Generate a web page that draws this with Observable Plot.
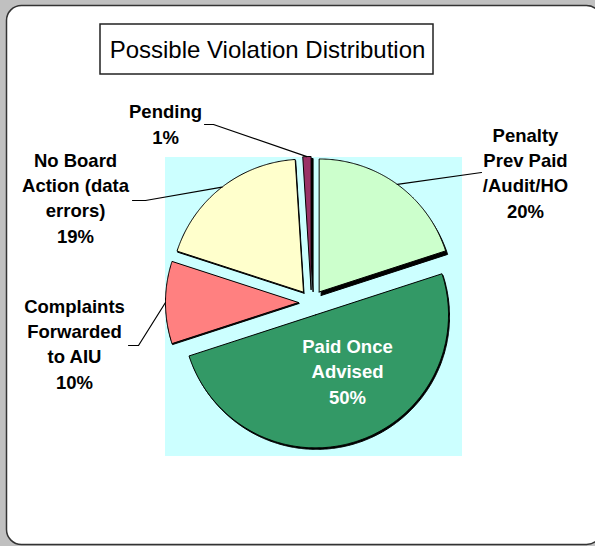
<!DOCTYPE html>
<html><head><meta charset="utf-8">
<script src="https://cdn.jsdelivr.net/npm/d3@7"></script>
<script src="https://cdn.jsdelivr.net/npm/@observablehq/plot@0.6"></script>
<style>html,body{margin:0;padding:0;background:#c0c0c0;} svg{display:block}</style>
</head><body><div id="chart"></div>
<script>
// ---- data ----
const title = "Possible Violation Distribution";
const categories = ["Penalty Prev Paid /Audit/HO", "Paid Once Advised", "Complaints Forwarded to AIU", "No Board Action (data errors)", "Pending"];
const labelLines = [["Penalty", "Prev Paid", "/Audit/HO"], ["Paid Once", "Advised"], ["Complaints", "Forwarded", "to AIU"], ["No Board", "Action (data", "errors)"], ["Pending"]];
const shares = [20, 50, 10, 19, 1];

// ---- styles & layout ----
const colors = ["#ccffcc", "#339966", "#ff8080", "#ffffcc", "#993366"];
const textColors = ["#000", "#fff", "#000", "#000", "#000"];
const shadowOffsets = [[2, 3.5], [1, 1.5], [0.5, 1], [0.5, 1], [2, 2]];
const W = 595, H = 546;
const FONT = "'Liberation Sans', Arial, Helvetica, sans-serif";
const pieLayout = {cx: 311, cy: 302, r: 133, explode: 13};
const plotArea = [{x1: 165, x2: 462, y1: 157, y2: 456}];
const titleBox = [{x1: 100, x2: 433, y1: 24, y2: 74, x: 267, y: 57}];
// label anchor: x center, y = baseline of last line; leader: elbow points after the arc point
const labelLayout = [
  {x: 525, y: 217, leader: [[481, 172]]},
  {x: 347, y: 403, leader: null},
  {x: 74, y: 388, leader: [[138, 345], [128, 345]]},
  {x: 75, y: 242, leader: [[145, 200], [132, 200]]},
  {x: 165, y: 143, leader: [[213, 124], [204, 124]]}
];

const arcs = d3.pie().sort(null).value(d => d)(shares);
const {cx, cy, r, explode} = pieLayout;

const slices = arcs.map((a, i) => {
  const mid = (a.startAngle + a.endAngle) / 2;
  const ox = cx + explode * Math.sin(mid), oy = cy - explode * Math.cos(mid);
  const pts = [{x: ox, y: oy}];
  const n = Math.max(4, Math.ceil((a.endAngle - a.startAngle) / (Math.PI / 360)));
  for (let k = 0; k <= n; k++) {
    const t = a.startAngle + (a.endAngle - a.startAngle) * k / n;
    pts.push({x: ox + r * Math.sin(t), y: oy - r * Math.cos(t)});
  }
  pts.push({x: ox, y: oy});
  const anchor = {x: ox + r * Math.sin(mid), y: oy - r * Math.cos(mid)};
  return {i, pts, anchor};
});

const leaders = slices.filter(s => labelLayout[s.i].leader).map(s =>
  [s.anchor, ...labelLayout[s.i].leader.map(([x, y]) => ({x, y}))]);

const labels = shares.map((v, i) => ({
  x: labelLayout[i].x, y: labelLayout[i].y,
  text: [...labelLines[i], v + "%"].join("\n"),
  fill: textColors[i]
}));

const marks = [
  Plot.frame({fill: "white", stroke: "#333", strokeWidth: 1.5, rx: 15, insetLeft: 6, insetTop: 5, insetRight: -6, insetBottom: 2}),
  Plot.rect(titleBox, {x1: "x1", x2: "x2", y1: "y1", y2: "y2", fill: "white", stroke: "#222", strokeWidth: 1.5}),
  Plot.text(titleBox, {x: "x", y: "y", text: () => title, fontSize: 24, fontFamily: FONT, lineAnchor: "bottom", fill: "#000"}),
  Plot.rect(plotArea, {x1: "x1", x2: "x2", y1: "y1", y2: "y2", fill: "#ccffff"}),
  ...slices.map(s => Plot.line(s.pts, {x: "x", y: "y", fill: "#000", stroke: "#000", strokeWidth: 1, dx: shadowOffsets[s.i][0], dy: shadowOffsets[s.i][1]})),
  ...slices.map(s => Plot.line(s.pts, {x: "x", y: "y", fill: colors[s.i], stroke: "#000", strokeWidth: 1, strokeLinejoin: "miter"})),
  ...leaders.map(l => Plot.line(l, {x: "x", y: "y", stroke: "#000", strokeWidth: 1.2})),
  Plot.text(labels, {x: "x", y: "y", text: "text", fill: "fill", fontSize: 18.5, fontWeight: "bold", fontFamily: FONT, lineAnchor: "bottom", lineHeight: 1.36})
];

const chart = Plot.plot({
  width: W, height: H,
  margin: 0,
  x: {domain: [0, W], range: [0, W], axis: null},
  y: {domain: [0, H], range: [0, H], axis: null},
  style: {background: "#c0c0c0", overflow: "hidden"},
  marks
});
document.getElementById("chart").appendChild(chart);
</script>
</body></html>
